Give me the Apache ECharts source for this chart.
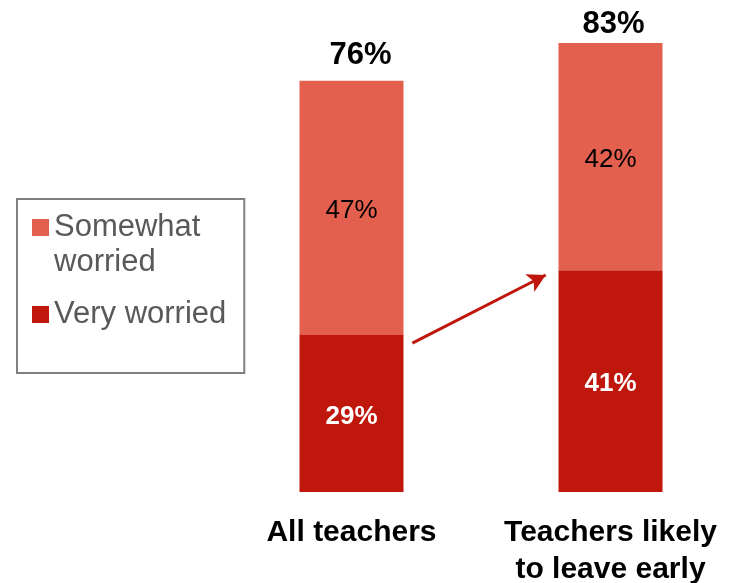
<!DOCTYPE html>
<html>
<head>
<meta charset="utf-8">
<script src="https://cdn.jsdelivr.net/npm/echarts@6/dist/echarts.min.js"></script>
<style>
  html, body { margin: 0; padding: 0; background: #fff; }
  #chart { width: 734px; height: 583px; }
</style>
</head>
<body>
<div id="chart"></div>
<script>
// data
var categories = ["All teachers", "Teachers likely\nto leave early"];
var seriesNames = ["Somewhat worried", "Very worried"];
var veryWorried = [29, 41];
var somewhatWorried = [47, 42];
var totals = [76, 83];
// arrow from first bar to second, in [band position, percent]
var arrowFrom = [0.235, 27.5];
var arrowTo = [0.75, 40.1];

var lightRed = "#E4604E";
var darkRed = "#C0170C";
var font = "'Liberation Sans', Arial, sans-serif";

// small styling for the total labels above each bar
var totalLabelTweaks = [
  { distance: 10, offset: [9, 0] },
  { distance: 3, offset: [3, 0] }
];

var chart = echarts.init(document.getElementById("chart"));

// legend icon: square sitting at top of a taller icon box, so text lines up with first line
var legendIcon = "path://M0,0h17v17h-17z M0,52h0.01v0.01h-0.01z";

chart.setOption({
  backgroundColor: "#ffffff",
  animation: false,
  textStyle: { fontFamily: font },
  legend: {
    orient: "vertical",
    left: 17,
    top: 199,
    padding: [11, 18, 6, 15],
    borderColor: "#808080",
    borderWidth: 2,
    itemWidth: 17,
    itemHeight: 52,
    itemGap: 17,
    selectedMode: false,
    data: [
      { name: seriesNames[0], icon: legendIcon },
      { name: seriesNames[1], icon: legendIcon }
    ],
    formatter: function(name) {
      if (name === "Somewhat worried") return "Somewhat\nworried";
      return name + "\n ";
    },
    textStyle: {
      fontFamily: font,
      fontSize: 31,
      lineHeight: 35,
      color: "#595959"
    }
  },
  grid: {
    left: 222,
    width: 518,
    top: 5,
    bottom: 91,
    containLabel: false,
    outerBoundsMode: "none"
  },
  xAxis: [
    {
      type: "category",
      data: categories,
      axisLine: { show: false },
      axisTick: { show: false },
      axisLabel: {
        interval: 0,
        margin: 22,
        fontFamily: font,
        fontSize: 30,
        fontWeight: "bold",
        lineHeight: 37,
        color: "#000000"
      }
    },
    {
      type: "value",
      show: false,
      min: -0.5,
      max: 1.5
    }
  ],
  yAxis: {
    type: "value",
    min: 0,
    max: 90,
    show: false
  },
  series: [
    {
      name: seriesNames[1],
      type: "bar",
      stack: "worry",
      barWidth: 104,
      itemStyle: { color: darkRed },
      label: {
        show: true,
        position: "inside",
        offset: [0, 3],
        formatter: "{c}%",
        fontFamily: font,
        fontSize: 26,
        fontWeight: "bold",
        color: "#ffffff"
      },
      data: veryWorried
    },
    {
      name: seriesNames[0],
      type: "bar",
      stack: "worry",
      barWidth: 104,
      itemStyle: { color: lightRed },
      label: {
        show: true,
        position: "inside",
        offset: [0, 3],
        formatter: "{c}%",
        fontFamily: font,
        fontSize: 26,
        color: "#000000"
      },
      data: somewhatWorried
    },
    {
      name: "total",
      type: "scatter",
      symbolSize: 0,
      silent: true,
      itemStyle: { opacity: 1 },
      label: {
        show: true,
        position: "top",
        formatter: "{c}%",
        fontFamily: font,
        fontSize: 31,
        fontWeight: "bold",
        color: "#000000",
        opacity: 1
      },
      data: totals.map(function(v, i) {
        return { value: v, label: totalLabelTweaks[i] };
      })
    },
    {
      name: "arrow",
      type: "line",
      xAxisIndex: 1,
      data: [],
      silent: true,
      markLine: {
        silent: true,
        symbol: ["none", "arrow"],
        symbolSize: [15, 18],
        label: { show: false },
        lineStyle: { color: darkRed, width: 3, type: "solid" },
        data: [[{ coord: arrowFrom }, { coord: arrowTo }]]
      }
    }
  ]
});
</script>
</body>
</html>
